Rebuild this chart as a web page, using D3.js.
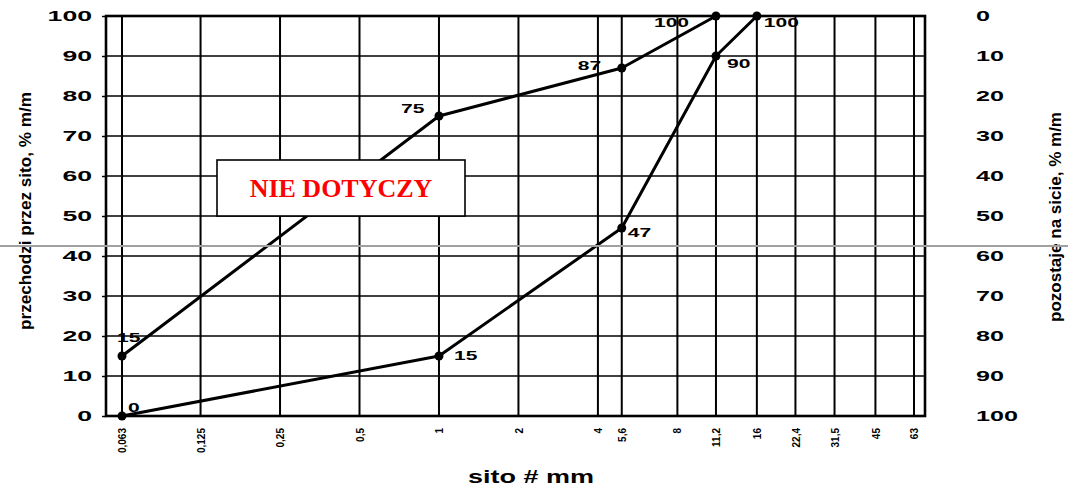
<!DOCTYPE html>
<html>
<head>
<meta charset="utf-8">
<script src="https://cdn.jsdelivr.net/npm/d3@7"></script>
<style>
  html, body { margin: 0; padding: 0; background: #fff; }
  svg { display: block; }
  text { font-family: "Liberation Sans", Arial, sans-serif; font-weight: bold; fill: #000; }
</style>
</head>
<body>
<svg id="chart" width="1068" height="488"></svg>
<script>
// ---- data ----
const sieves = [0.063, 0.125, 0.25, 0.5, 1, 2, 4, 5.6, 8, 11.2, 16, 22.4, 31.5, 45, 63];
const sieveLabels = ["0,063", "0,125", "0,25", "0,5", "1", "2", "4", "5,6", "8", "11,2", "16", "22,4", "31,5", "45", "63"];
const yTicks = [0, 10, 20, 30, 40, 50, 60, 70, 80, 90, 100];
const upperX = [0.063, 1, 5.6, 11.2];
const upperY = [15, 75, 87, 100];
const lowerX = [0.063, 1, 5.6, 11.2, 16];
const lowerY = [0, 15, 47, 90, 100];
const leftTitle = "przechodzi przez sito, % m/m";
const rightTitle = "pozostaje na sicie, % m/m";
const xTitle = "sito # mm";
const boxText = "NIE DOTYCZY";

// ---- layout ----
const L = 106, R = 925, T = 16, B = 416;
const svg = d3.select("#chart");

// sieve-axis: log2 spacing (one octave per cell), 5,6 drawn slightly left as in the original form
const base = d3.scaleLog().base(2).domain([0.063, 63]).range([122, 914]);
const x = d3.scaleLog()
  .domain([0.063, 4, 5.6, 8, 63])
  .range([base(0.063), base(4), base(4) + (base(8) - base(4)) * 0.3, base(8), base(63)]);
const y = d3.scaleLinear().domain([0, 100]).range([B, T]);
const yR = d3.scaleLinear().domain([0, 100]).range([T, B]);

// horizontal grid
svg.append("g").selectAll("line").data(yTicks).join("line")
  .attr("x1", L).attr("x2", R)
  .attr("y1", d => y(d)).attr("y2", d => y(d))
  .attr("stroke", "#000").attr("stroke-width", 1.6);

// vertical grid
svg.append("g").selectAll("line").data(sieves).join("line")
  .attr("x1", d => x(d)).attr("x2", d => x(d))
  .attr("y1", T).attr("y2", B)
  .attr("stroke", "#000").attr("stroke-width", 2);

// frame
svg.append("rect").attr("x", L).attr("y", T).attr("width", R - L).attr("height", B - T)
  .attr("fill", "none").attr("stroke", "#000").attr("stroke-width", 2.6);

// left axis
const gl = svg.append("g").attr("transform", `translate(${L},0)`)
  .call(d3.axisLeft(y).tickValues(yTicks).tickSize(4).tickPadding(10).tickSizeOuter(0));
gl.select(".domain").remove();
gl.selectAll("line").attr("stroke", "#000").attr("stroke-width", 1.5);
gl.selectAll("text")
  .style("font-size", "15px").style("font-family", "'Liberation Sans', Arial, sans-serif").style("font-weight", "bold")
  .attr("textLength", function () { return this.textContent.length * 14.8; })
  .attr("lengthAdjust", "spacingAndGlyphs");

// right axis
const gr = svg.append("g").attr("transform", `translate(${R},0)`)
  .call(d3.axisRight(yR).tickValues(yTicks).tickSize(0).tickPadding(51).tickSizeOuter(0));
gr.select(".domain").remove();
gr.selectAll("text")
  .style("font-size", "15px").style("font-family", "'Liberation Sans', Arial, sans-serif").style("font-weight", "bold")
  .attr("textLength", function () { return this.textContent.length * 14; })
  .attr("lengthAdjust", "spacingAndGlyphs");

// bottom axis
const gb = svg.append("g").attr("transform", `translate(0,${B})`)
  .call(d3.axisBottom(x).tickValues(sieves).tickFormat((d, i) => sieveLabels[i]).tickSize(0).tickSizeOuter(0));
gb.select(".domain").remove();
gb.selectAll("text")
  .style("font-size", "10px").style("font-family", "'Liberation Sans', Arial, sans-serif").style("font-weight", "bold")
  .attr("transform", "rotate(-90)")
  .attr("text-anchor", "end")
  .attr("x", -12).attr("y", 0).attr("dy", "0.36em");

// axis titles
svg.append("text").text(leftTitle)
  .attr("transform", "translate(31,211) rotate(-90)")
  .attr("text-anchor", "middle")
  .style("font-size", "17px")
  .attr("textLength", 238).attr("lengthAdjust", "spacingAndGlyphs");
svg.append("text").text(rightTitle)
  .attr("transform", "translate(1061,217) rotate(-90)")
  .attr("text-anchor", "middle")
  .style("font-size", "17px")
  .attr("textLength", 210).attr("lengthAdjust", "spacingAndGlyphs");
svg.append("text").text(xTitle)
  .attr("x", 531).attr("y", 483)
  .attr("text-anchor", "middle")
  .style("font-size", "18px")
  .attr("textLength", 126).attr("lengthAdjust", "spacingAndGlyphs");

// series
const series = [
  { xs: upperX, ys: upperY, off: [[-5, -14], [-38, -3], [-44, 2], [-62, 11]] },
  { xs: lowerX, ys: lowerY, off: [[6, -4], [15, 4], [6, 9], [11, 12], [7, 11]] }
];
const line = d3.line().x(d => x(d[0])).y(d => y(d[1]));
series.forEach(s => {
  const pts = s.xs.map((v, i) => [v, s.ys[i]]);
  svg.append("path").datum(pts).attr("d", line)
    .attr("fill", "none").attr("stroke", "#000").attr("stroke-width", 3).attr("stroke-linejoin", "round");
  svg.append("g").selectAll("circle").data(pts).join("circle")
    .attr("cx", d => x(d[0])).attr("cy", d => y(d[1])).attr("r", 4.5).attr("fill", "#000");
  svg.append("g").selectAll("text").data(pts).join("text")
    .attr("x", (d, i) => x(d[0]) + s.off[i][0])
    .attr("y", (d, i) => y(d[1]) + s.off[i][1])
    .text(d => d[1])
    .style("font-size", "13px")
    .attr("textLength", d => String(d[1]).length * 11.7)
    .attr("lengthAdjust", "spacingAndGlyphs");
});

// "NIE DOTYCZY" box
svg.append("rect").attr("x", 217).attr("y", 160).attr("width", 248).attr("height", 56)
  .attr("fill", "#fff").attr("stroke", "#000").attr("stroke-width", 1.6);
svg.append("text").text(boxText)
  .attr("x", 341).attr("y", 197).attr("text-anchor", "middle")
  .style("font-family", "'Liberation Serif', 'Times New Roman', serif")
  .style("font-size", "26px").style("fill", "#ff0000");

// gray horizontal rule across the page
svg.append("line").attr("x1", 0).attr("x2", 1068).attr("y1", 246).attr("y2", 246)
  .attr("stroke", "#a0a0a0").attr("stroke-width", 2);
</script>
</body>
</html>
